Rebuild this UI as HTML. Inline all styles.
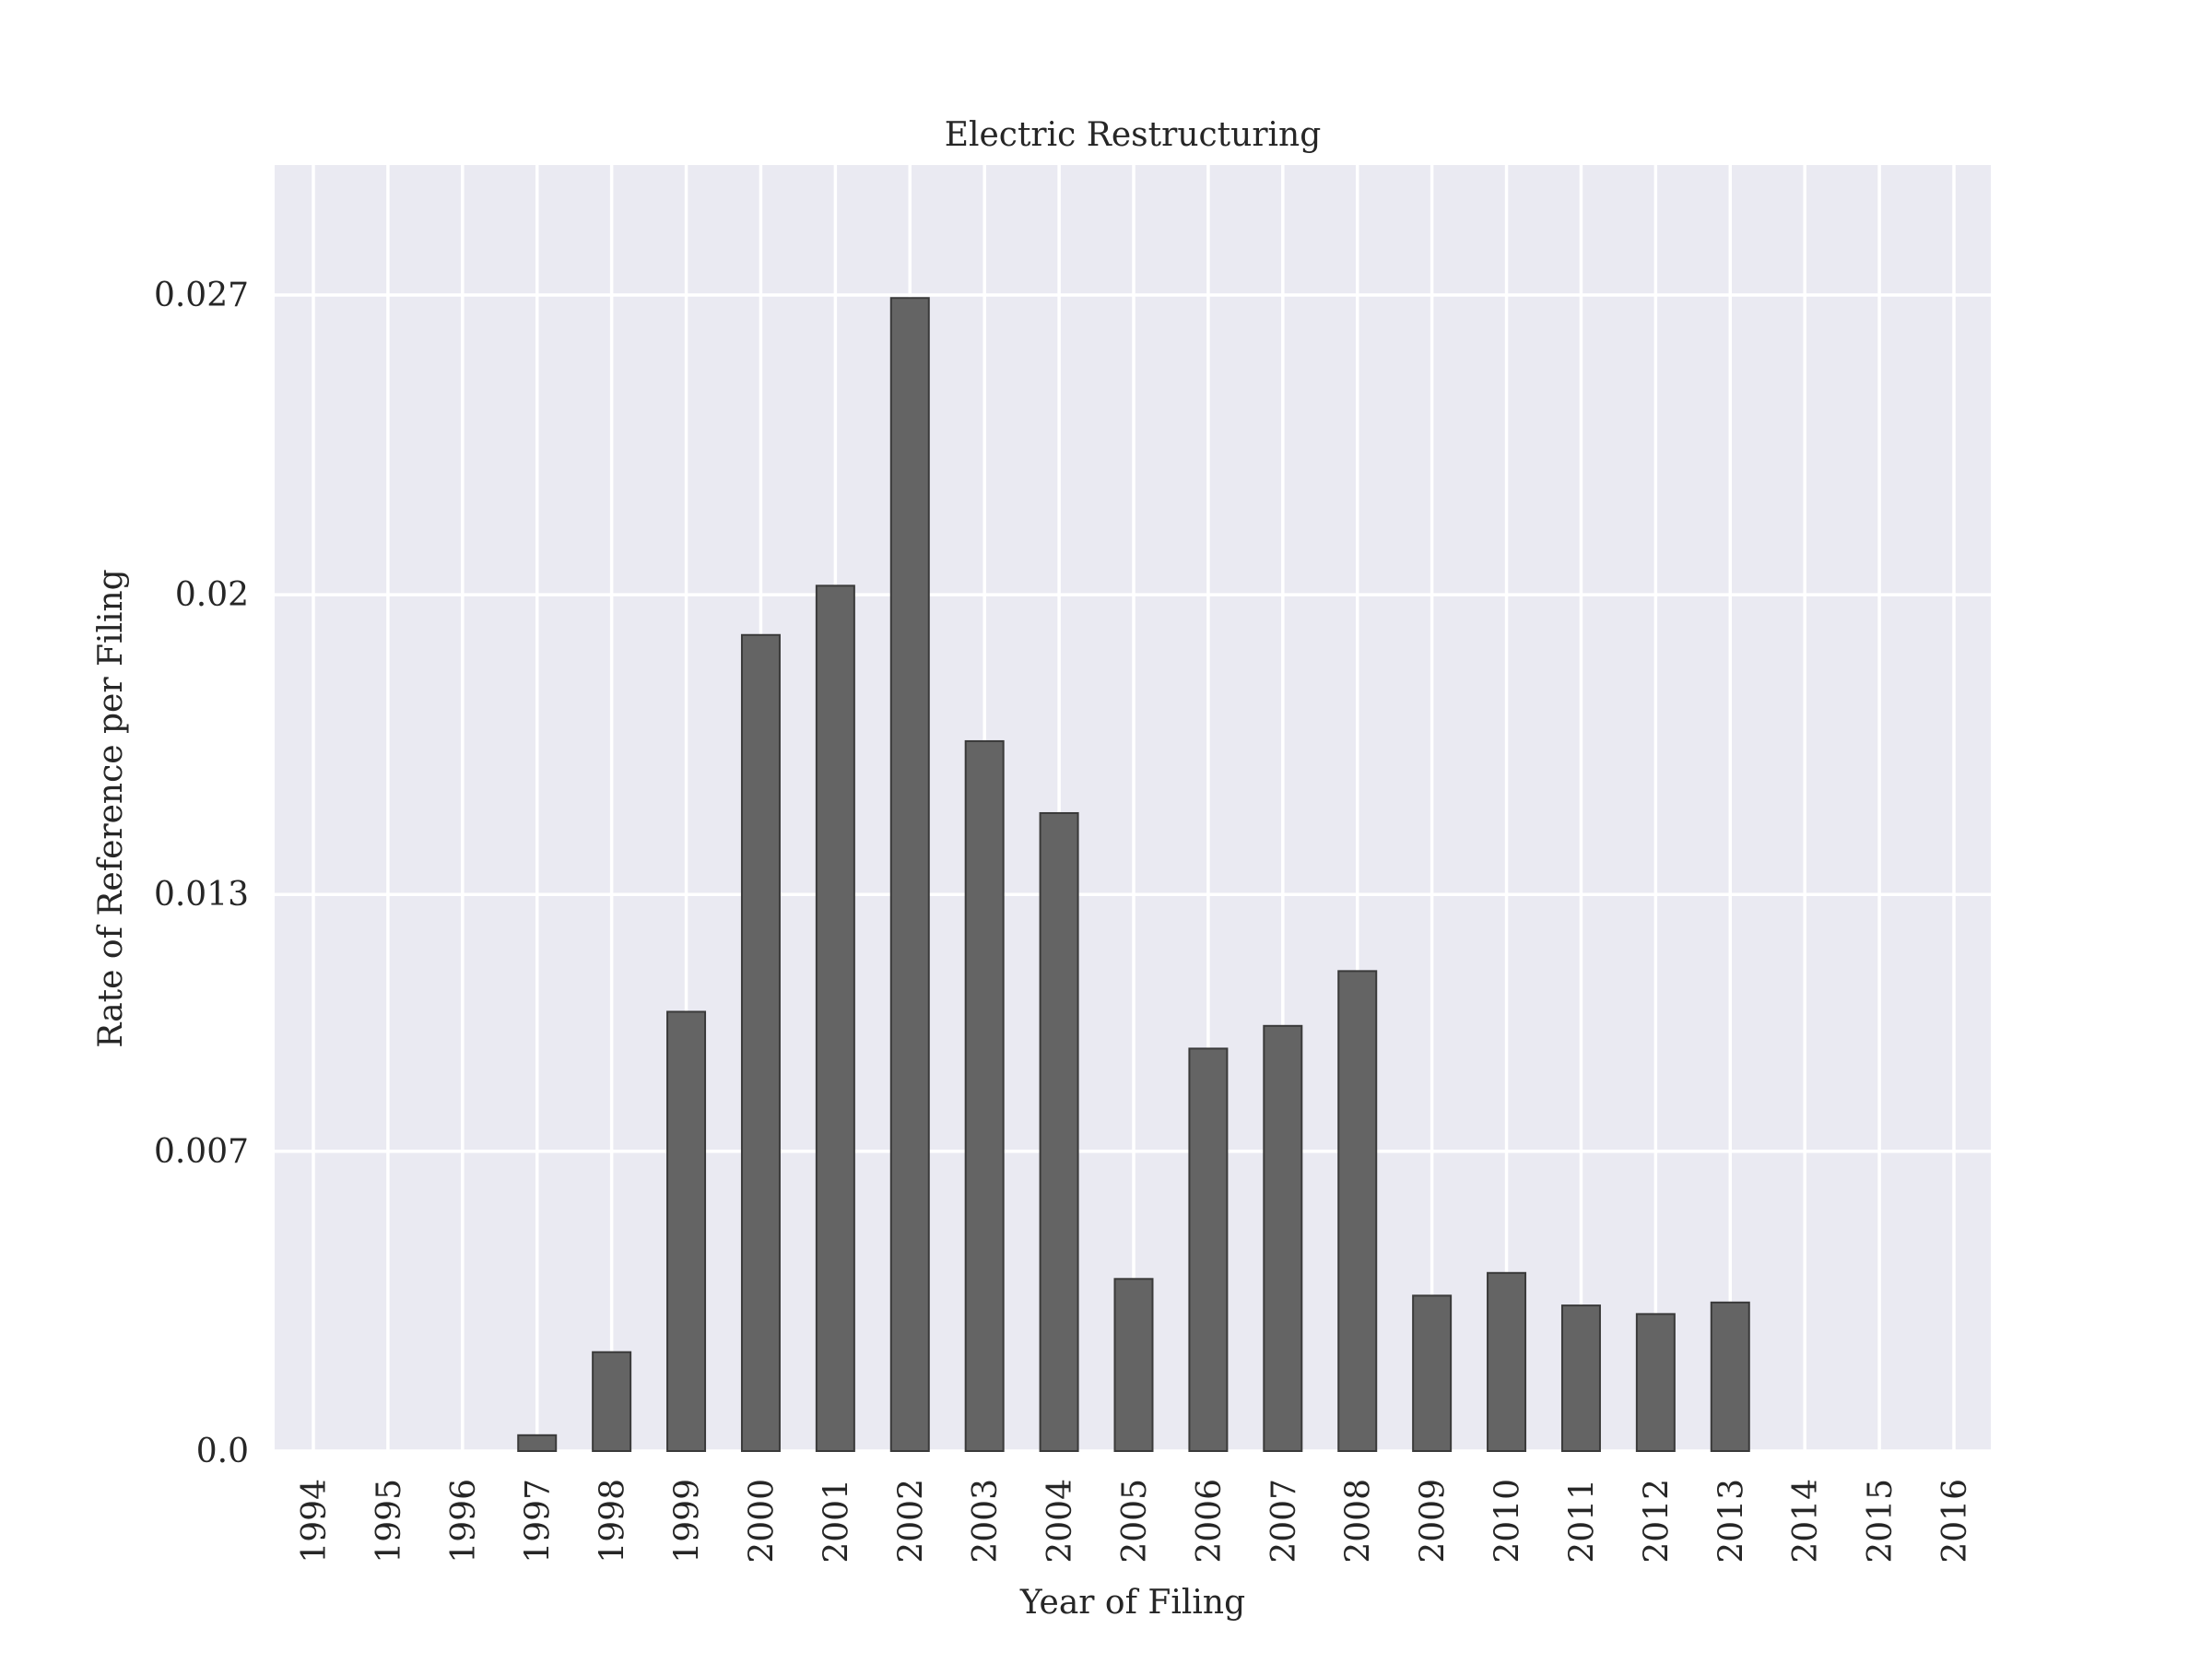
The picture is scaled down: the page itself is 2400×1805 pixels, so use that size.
<!DOCTYPE html>
<html><head><meta charset="utf-8"><style>
html,body{margin:0;padding:0;background:#fff;}
svg text{font-family:"DejaVu Serif","Liberation Serif",serif;fill:#262626;}
</style></head><body>
<svg id="chart" width="2400" height="1800" viewBox="0 0 2400 1800" xmlns="http://www.w3.org/2000/svg">
<rect x="0" y="0" width="2400" height="1800" fill="#fff"/>
<rect x="298" y="179" width="1862" height="1395" fill="#eaeaf2"/>
<g id="grid"></g>
<g id="bars"></g>
<g id="labels"></g>
<text x="1229" y="158" font-size="36" text-anchor="middle">Electric Restructuring</text>
<text x="1229" y="1750" font-size="36" text-anchor="middle">Year of Filing</text>
<text x="0" y="0" font-size="36" text-anchor="middle" transform="translate(132,877) rotate(-90)">Rate of Reference per Filing</text>
</svg>
<script>
const categories = ["1994","1995","1996","1997","1998","1999","2000","2001","2002","2003","2004","2005","2006","2007","2008","2009","2010","2011","2012","2013","2014","2015","2016"];
const values = [0,0,0,0.00037,0.00231,0.01026,0.01906,0.02021,0.02693,0.01658,0.0149,0.00402,0.0094,0.00993,0.01121,0.00363,0.00416,0.0034,0.0032,0.00347,0,0,0];
const yTicks = [0,0.007,0.013,0.02,0.027];
const yTickLabels = ["0.0","0.007","0.013","0.02","0.027"];

const NS="http://www.w3.org/2000/svg";
const axL=298,axR=2160,axT=179,axB=1574;
function xPos(i){return 340+i*(2120-340)/22;}
function yPos(v){return axB-v*(axB-320)/0.027;}
const grid=document.getElementById('grid'),bars=document.getElementById('bars'),labels=document.getElementById('labels');
function mk(tag,attrs,parent){const e=document.createElementNS(NS,tag);for(const k in attrs)e.setAttribute(k,attrs[k]);parent.appendChild(e);return e;}
yTicks.forEach((t,i)=>{
  const y=yPos(t);
  const l=mk('line',{x1:axL,x2:axR,y1:y,y2:y,stroke:'#fff','stroke-width':3.5},grid);
  
  
  const tx=mk('text',{x:270,y:y+12,'font-size':36,'text-anchor':'end'},labels);
  tx.textContent=yTickLabels[i];
  
  
});
categories.forEach((c,i)=>{
  const x=xPos(i);
  const l=mk('line',{x1:x,x2:x,y1:axT,y2:axB,stroke:'#fff','stroke-width':3.5},grid);
  
  
  const v=values[i];
  const y=yPos(v);
  const h=Math.max(axB-y,0);
  const r=mk('rect',{x:x-20.5,y:y,width:41,height:h,fill:'#646464',stroke:'#3a3a3a','stroke-width':h>0?2:0},bars);
  
  
  const tx=mk('text',{x:0,y:0,'font-size':36,'text-anchor':'end',transform:'translate('+(x+13)+',1604) rotate(-90)'},labels);
  tx.textContent=c;
  
  
});
</script>
</body></html>
